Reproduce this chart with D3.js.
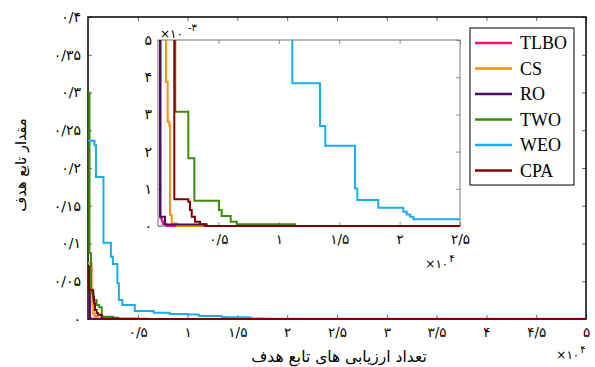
<!DOCTYPE html>
<html>
<head>
<meta charset="utf-8">
<script src="https://cdn.jsdelivr.net/npm/d3@7"></script>
<style>
  body { margin: 0; background: #fff; }
  svg { display: block; }
</style>
</head>
<body>
<script>
// convergence curves (x = evaluations, y = objective)
const names = ["TLBO", "CS", "RO", "TWO", "WEO", "CPA"];
const colors = ["#f5137c", "#f7900a", "#48105e", "#3b8c10", "#1aaeee", "#800000"];

const tlboX = [0, 220, 320, 420, 700, 50000];
const tlboY = [0.045, 0.0002, 0.00012, 0.00005, 0, 0];

const csX = [0, 370, 450, 530, 660, 800, 940, 990, 1130, 1550, 50000];
const csY = [0.074, 0.04, 0.0185, 0.007, 0.00388, 0.0028, 0.0027, 0.0003, 0.00007, 0, 0];

const roX = [0, 170, 580, 3900, 50000];
const roY = [0.065, 0.00025, 0.00004, 0, 0];

const twoX = [0, 150, 300, 530, 870, 1130, 1380, 1430, 2510, 3010, 5050, 5270, 6020, 6520, 11340, 50000];
const twoY = [0.30, 0.087, 0.034, 0.025, 0.0185, 0.0155, 0.0053, 0.00307, 0.00182, 0.00068, 0.00043, 0.00027, 0.000116, 0.000046, 0, 0];

const weoX = [0, 650, 800, 1550, 2300, 2500, 2950, 3100, 3450, 4700, 6600, 8200, 10000, 11120, 13410, 13850, 16310, 16500, 18240, 20310, 20590, 20870, 21140, 50000];
const weoY = [0.236, 0.230, 0.188, 0.101, 0.0825, 0.0728, 0.0474, 0.0252, 0.0185, 0.0106, 0.0083, 0.0066, 0.0058, 0.00384, 0.00269, 0.00216, 0.00101, 0.0007, 0.00049, 0.00038, 0.00031, 0.00025, 0.00018, 0.00018];

const cpaX = [0, 100, 530, 600, 700, 870, 1000, 1350, 2510, 2650, 2790, 3060, 3480, 4030, 50000];
const cpaY = [0.07, 0.038, 0.0295, 0.021, 0.012, 0.008, 0.0055, 0.00072, 0.00065, 0.00043, 0.00025, 0.000116, 0.000046, 0, 0];

const mainXTicks = [5000, 10000, 15000, 20000, 25000, 30000, 35000, 40000, 45000, 50000];
const mainYTicks = [0, 0.05, 0.1, 0.15, 0.2, 0.25, 0.3, 0.35, 0.4];
const insetXTicks = [5000, 10000, 15000, 20000, 25000];
const insetYTicks = [0, 0.001, 0.002, 0.003, 0.004, 0.005];

const xs = [tlboX, csX, roX, twoX, weoX, cpaX];
const ys = [tlboY, csY, roY, twoY, weoY, cpaY];
const series = names.map((n, i) => ({
  name: n, color: colors[i],
  pts: xs[i].map((v, j) => [v, ys[i][j]])
}));

// persian digits, "/" as decimal sign
const fa = s => String(s).replace(/\d/g, d => "۰۱۲۳۴۵۶۷۸۹"[d]).replace(".", "/");

const w = 595, h = 367;
const faFont = "DejaVu Sans";

const svg = d3.select("body").append("svg")
  .attr("width", w).attr("height", h);

// ---------- main axes ----------
const x = d3.scaleLinear().domain([0, 50000]).range([88, 586]);
const y = d3.scaleLinear().domain([0, 0.4]).range([319, 17]);

svg.append("clipPath").attr("id", "clipMain")
  .append("rect").attr("x", 88).attr("y", 17).attr("width", 498).attr("height", 303);

const tick = 4;
function styleAxis(g, col, size) {
  g.select(".domain").remove();
  g.selectAll(".tick line").attr("stroke", col).attr("stroke-width", 0.8);
  g.selectAll("text").attr("font-family", faFont).attr("font-size", size || 13.5).attr("fill", "#000");
}

svg.append("g").attr("transform", "translate(0,319)")
  .call(d3.axisBottom(x).tickValues(mainXTicks).tickSize(-tick).tickPadding(8).tickFormat(d => fa(d / 1e4)))
  .call(g => styleAxis(g, "#444"));
svg.append("g").attr("transform", "translate(0,17)")
  .call(d3.axisTop(x).tickValues(mainXTicks).tickSize(-tick).tickFormat(""))
  .call(g => styleAxis(g, "#444"));
svg.append("g").attr("transform", "translate(88,0)")
  .call(d3.axisLeft(y).tickValues(mainYTicks).tickSize(-tick).tickPadding(7).tickFormat(d => fa(+d.toFixed(2))))
  .call(g => styleAxis(g, "#444", 14));
svg.append("g").attr("transform", "translate(586,0)")
  .call(d3.axisRight(y).tickValues(mainYTicks).tickSize(-tick).tickFormat(""))
  .call(g => styleAxis(g, "#444"));

svg.append("rect").attr("x", 88).attr("y", 17).attr("width", 498).attr("height", 302)
  .attr("fill", "none").attr("stroke", "#000").attr("stroke-width", 1.5);

const lineMain = d3.line().x(d => x(d[0])).y(d => y(d[1])).curve(d3.curveStepAfter);
svg.append("g").attr("clip-path", "url(#clipMain)")
  .selectAll("path").data(series).join("path")
  .attr("d", d => lineMain(d.pts))
  .attr("fill", "none").attr("stroke", d => d.color).attr("stroke-width", 2);

svg.append("text").attr("x", 571).attr("y", 359)
  .attr("text-anchor", "middle").attr("font-family", faFont).attr("font-size", 12)
  .text("×۱۰").append("tspan").attr("dy", -6).attr("dx", 1).attr("font-size", 10).text("۴");

svg.append("text").attr("x", 339).attr("y", 362)
  .attr("text-anchor", "middle").attr("font-family", faFont).attr("font-size", 15.5)
  .text("تعداد ارزیابی های تابع هدف");

svg.append("text").attr("transform", "translate(26,165) rotate(-90)")
  .attr("text-anchor", "middle").attr("font-family", faFont).attr("font-size", 14.5)
  .text("مقدار تابع هدف");

// ---------- inset ----------
const ix = d3.scaleLinear().domain([0, 25000]).range([158, 460]);
const iy = d3.scaleLinear().domain([0, 0.005]).range([226, 40]);

svg.append("rect").attr("x", 158).attr("y", 40).attr("width", 302).attr("height", 186).attr("fill", "#fff");

svg.append("clipPath").attr("id", "clipInset")
  .append("rect").attr("x", 158).attr("y", 40).attr("width", 302).attr("height", 187);

svg.append("g").attr("transform", "translate(0,226)")
  .call(d3.axisBottom(ix).tickValues(insetXTicks).tickSize(-tick).tickPadding(8).tickFormat(d => fa(d / 1e4)))
  .call(g => styleAxis(g, "#777"));
svg.append("g").attr("transform", "translate(0,40)")
  .call(d3.axisTop(ix).tickValues(insetXTicks).tickSize(-tick).tickFormat(""))
  .call(g => styleAxis(g, "#777"));
svg.append("g").attr("transform", "translate(158,0)")
  .call(d3.axisLeft(iy).tickValues(insetYTicks).tickSize(-tick).tickPadding(6).tickFormat(d => fa(Math.round(d * 1000))))
  .call(g => styleAxis(g, "#777", 14));
svg.append("g").attr("transform", "translate(460,0)")
  .call(d3.axisRight(iy).tickValues(insetYTicks).tickSize(-tick).tickFormat(""))
  .call(g => styleAxis(g, "#777"));

svg.append("rect").attr("x", 158).attr("y", 40).attr("width", 302).attr("height", 186)
  .attr("fill", "none").attr("stroke", "#777").attr("stroke-width", 1);

const lineInset = d3.line().x(d => ix(d[0])).y(d => iy(d[1])).curve(d3.curveStepAfter);
svg.append("g").attr("clip-path", "url(#clipInset)")
  .selectAll("path").data(series).join("path")
  .attr("d", d => lineInset(d.pts))
  .attr("fill", "none").attr("stroke", d => d.color).attr("stroke-width", 2);

svg.append("text").attr("x", 160).attr("y", 38)
  .attr("font-family", faFont).attr("font-size", 12)
  .text("×۱۰");
svg.append("text").attr("x", 188).attr("y", 31)
  .attr("direction", "ltr").attr("font-family", faFont).attr("font-size", 10)
  .text("-۳");

svg.append("text").attr("x", 440).attr("y", 268)
  .attr("text-anchor", "middle").attr("font-family", faFont).attr("font-size", 12)
  .text("×۱۰").append("tspan").attr("dy", -6).attr("dx", 1).attr("font-size", 10).text("۴");

// ---------- legend ----------
const leg = svg.append("g");
leg.append("rect").attr("x", 470).attr("y", 28).attr("width", 104).attr("height", 157)
  .attr("fill", "#fff").attr("stroke", "#000").attr("stroke-width", 1);
const item = leg.selectAll("g.item").data(series).join("g")
  .attr("class", "item")
  .attr("transform", (d, i) => `translate(0,${43 + i * 25.5})`);
item.append("line").attr("x1", 475).attr("x2", 512).attr("y1", 0).attr("y2", 0)
  .attr("stroke", d => d.color).attr("stroke-width", 2.5);
item.append("text").attr("x", 520).attr("y", 6)
  .attr("font-family", "Liberation Serif").attr("font-size", 18)
  .text(d => d.name);
</script>
</body>
</html>
